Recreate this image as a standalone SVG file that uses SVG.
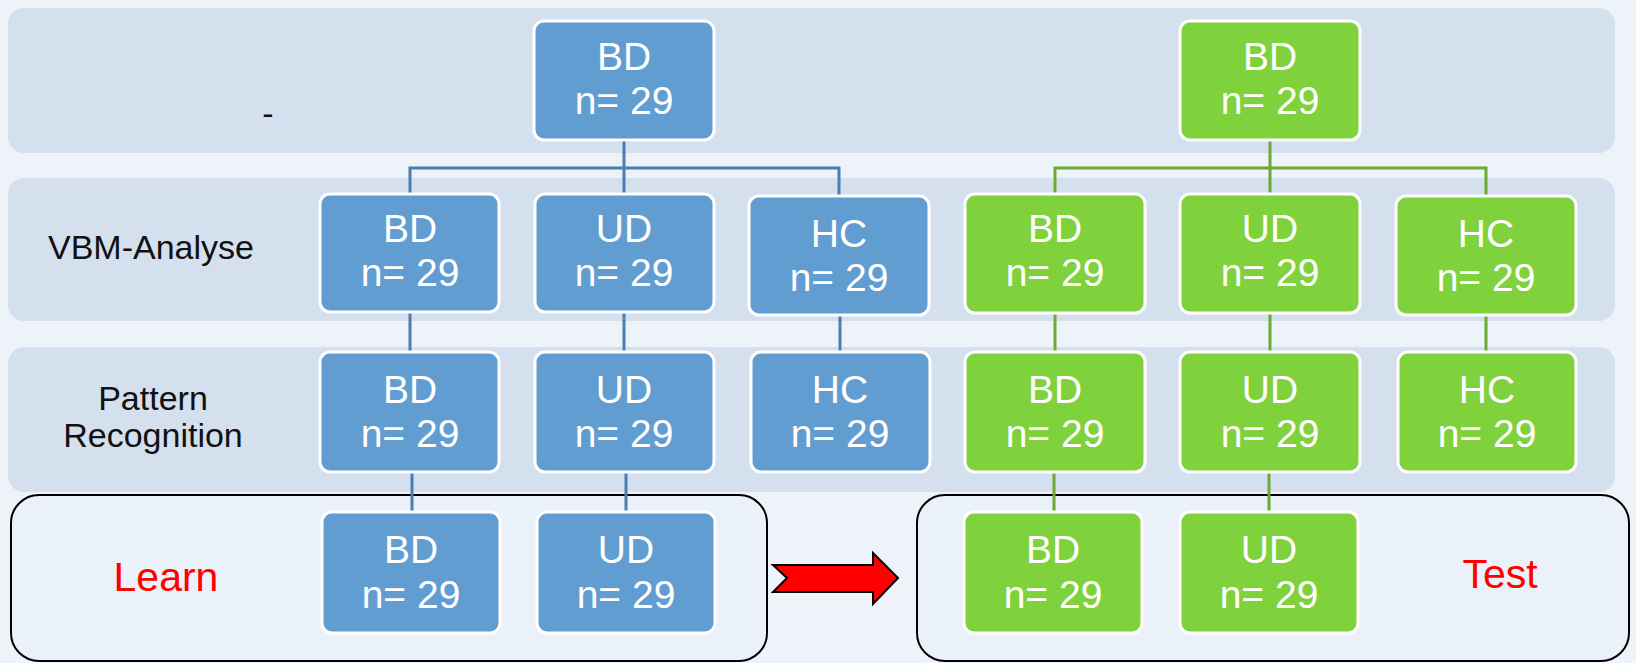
<svg xmlns="http://www.w3.org/2000/svg" width="1636" height="663" viewBox="0 0 1636 663">
  <style>
    .band { fill: #D4E0EE; }
    .nb { fill: #629DD1; stroke: #FFFFFF; stroke-width: 3; }
    .ng { fill: #80D23C; stroke: #FFFFFF; stroke-width: 3; }
    .nt { font-family: "Liberation Sans", Arial, sans-serif; font-size: 39px; fill: #FFFFFF; text-anchor: middle; }
    .lab { font-family: "Liberation Sans", Arial, sans-serif; font-size: 34px; fill: #111111; text-anchor: middle; }
    .red { font-family: "Liberation Sans", Arial, sans-serif; font-size: 41px; fill: #FF0000; text-anchor: middle; }
    .cb { fill: none; stroke: #4A7EB0; stroke-width: 3; }
    .cg { fill: none; stroke: #6DAA32; stroke-width: 3; }
    .frame { fill: #EAF1F8; stroke: #000000; stroke-width: 2; }
  </style>

  <!-- page background -->
  <rect x="0" y="0" width="1636" height="663" fill="#EEF3F9"/>

  <!-- horizontal bands -->
  <g id="bands">
    <rect class="band" x="8" y="8" width="1607" height="145" rx="16"/>
    <rect class="band" x="8" y="178" width="1607" height="143" rx="16"/>
    <rect class="band" x="8" y="347" width="1607" height="145" rx="16"/>
  </g>

  <!-- learn / test frames -->
  <g id="frame-learn">
    <rect class="frame" x="11" y="495" width="756" height="166" rx="28"/>
    <text class="red" x="166" y="591">Learn</text>
  </g>
  <g id="frame-test">
    <rect class="frame" x="917" y="495" width="712" height="166" rx="28"/>
    <text class="red" x="1500" y="588">Test</text>
  </g>

  <!-- row labels -->
  <g id="labels">
    <text class="lab" x="268" y="125" font-size="26">-</text>
    <text class="lab" x="151" y="259">VBM-Analyse</text>
    <text class="lab" x="153" y="410">Pattern</text>
    <text class="lab" x="153" y="447">Recognition</text>
  </g>

  <!-- connectors -->
  <g id="connectors">
    <path class="cb" d="M624 140 V194 M410 194 V168 H839 V196"/>
    <path class="cb" d="M410 312 V352 M624 312 V352 M840 315 V352"/>
    <path class="cb" d="M412 472 V512 M626 472 V512"/>
    <path class="cg" d="M1270 140 V194 M1055 194 V168 H1486 V196"/>
    <path class="cg" d="M1055 313 V352 M1270 313 V352 M1486 315 V352"/>
    <path class="cg" d="M1054 472 V512 M1269 472 V512"/>
  </g>

  <!-- transfer arrow -->
  <g id="arrow">
    <polygon points="773,565 873,565 873,553 898,578 873,604 873,592 773,592 787,578" fill="#FF0000" stroke="#000000" stroke-width="2" stroke-linejoin="miter"/>
  </g>

  <!-- blue branch -->
  <g id="b-top"><rect class="nb" x="534" y="21" width="180" height="119" rx="10"/><text class="nt" x="624" y="70">BD</text><text class="nt" x="624" y="114">n= 29</text></g>
  <g id="b-vbm-bd"><rect class="nb" x="320" y="194" width="179" height="118" rx="10"/><text class="nt" x="410" y="242">BD</text><text class="nt" x="410" y="286">n= 29</text></g>
  <g id="b-vbm-ud"><rect class="nb" x="535" y="194" width="179" height="118" rx="10"/><text class="nt" x="624" y="242">UD</text><text class="nt" x="624" y="286">n= 29</text></g>
  <g id="b-vbm-hc"><rect class="nb" x="749" y="196" width="180" height="119" rx="10"/><text class="nt" x="839" y="247">HC</text><text class="nt" x="839" y="291">n= 29</text></g>
  <g id="b-pr-bd"><rect class="nb" x="320" y="352" width="179" height="120" rx="10"/><text class="nt" x="410" y="403">BD</text><text class="nt" x="410" y="447">n= 29</text></g>
  <g id="b-pr-ud"><rect class="nb" x="535" y="352" width="179" height="120" rx="10"/><text class="nt" x="624" y="403">UD</text><text class="nt" x="624" y="447">n= 29</text></g>
  <g id="b-pr-hc"><rect class="nb" x="751" y="352" width="179" height="120" rx="10"/><text class="nt" x="840" y="403">HC</text><text class="nt" x="840" y="447">n= 29</text></g>
  <g id="b-learn-bd"><rect class="nb" x="322" y="512" width="178" height="121" rx="10"/><text class="nt" x="411" y="563">BD</text><text class="nt" x="411" y="608">n= 29</text></g>
  <g id="b-learn-ud"><rect class="nb" x="537" y="512" width="178" height="121" rx="10"/><text class="nt" x="626" y="563">UD</text><text class="nt" x="626" y="608">n= 29</text></g>

  <!-- green branch -->
  <g id="g-top"><rect class="ng" x="1180" y="21" width="180" height="119" rx="10"/><text class="nt" x="1270" y="70">BD</text><text class="nt" x="1270" y="114">n= 29</text></g>
  <g id="g-vbm-bd"><rect class="ng" x="965" y="194" width="180" height="119" rx="10"/><text class="nt" x="1055" y="242">BD</text><text class="nt" x="1055" y="286">n= 29</text></g>
  <g id="g-vbm-ud"><rect class="ng" x="1180" y="194" width="180" height="119" rx="10"/><text class="nt" x="1270" y="242">UD</text><text class="nt" x="1270" y="286">n= 29</text></g>
  <g id="g-vbm-hc"><rect class="ng" x="1396" y="196" width="180" height="119" rx="10"/><text class="nt" x="1486" y="247">HC</text><text class="nt" x="1486" y="291">n= 29</text></g>
  <g id="g-pr-bd"><rect class="ng" x="965" y="352" width="180" height="120" rx="10"/><text class="nt" x="1055" y="403">BD</text><text class="nt" x="1055" y="447">n= 29</text></g>
  <g id="g-pr-ud"><rect class="ng" x="1180" y="352" width="180" height="120" rx="10"/><text class="nt" x="1270" y="403">UD</text><text class="nt" x="1270" y="447">n= 29</text></g>
  <g id="g-pr-hc"><rect class="ng" x="1398" y="352" width="178" height="120" rx="10"/><text class="nt" x="1487" y="403">HC</text><text class="nt" x="1487" y="447">n= 29</text></g>
  <g id="g-test-bd"><rect class="ng" x="964" y="512" width="178" height="121" rx="10"/><text class="nt" x="1053" y="563">BD</text><text class="nt" x="1053" y="608">n= 29</text></g>
  <g id="g-test-ud"><rect class="ng" x="1180" y="512" width="178" height="121" rx="10"/><text class="nt" x="1269" y="563">UD</text><text class="nt" x="1269" y="608">n= 29</text></g>
</svg>
